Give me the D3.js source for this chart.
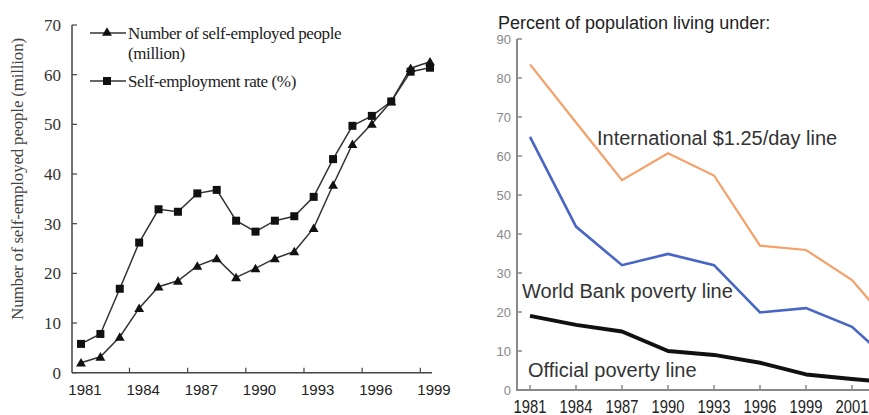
<!DOCTYPE html>
<html><head><meta charset="utf-8">
<script src="https://cdn.jsdelivr.net/npm/d3@7"></script>
<style>body{margin:0;background:#fff}svg{display:block}</style>
</head><body>
<svg id="c" width="869" height="415"></svg>
<script>
// ---- Left chart data ----
const leftYears = [1981,1982,1983,1984,1985,1986,1987,1988,1989,1990,1991,1992,1993,1994,1995,1996,1997,1998,1999];
const selfEmployedPeople = [2.0,3.2,7.2,13.0,17.3,18.5,21.5,23.0,19.2,21.0,23.0,24.4,29.1,37.8,46.0,50.1,54.6,61.3,62.6];
const selfEmploymentRate = [5.8,7.8,16.9,26.2,32.9,32.4,36.1,36.8,30.6,28.4,30.6,31.5,35.4,43.0,49.7,51.7,54.6,60.6,61.4];
const leftXTickLabels = [1981,1984,1987,1990,1993,1996,1999];
const leftYTicks = [0,10,20,30,40,50,60,70];
const leftLegend = ["Number of self-employed people", "(million)", "Self-employment rate (%)"];
const leftYTitle = "Number of self-employed people (million)";

// ---- Right chart data ----
const rightCats = ["1981","1984","1987","1990","1993","1996","1999","2001","2004"];
const rightXTickLabels = ["1981","1984","1987","1990","1993","1996","1999","2001"];
const intlLine = [83.5,68.6,53.8,60.7,55.0,37.0,35.9,28.2,14.5];
const worldBankLine = [64.9,41.9,32.0,34.9,32.0,19.9,21.0,16.2,5.5];
const officialLine = [19.0,16.7,15.0,10.0,9.0,7.0,4.0,2.8,1.8];
const rightYTicks = [0,10,20,30,40,50,60,70,80,90];
const rightTitle = "Percent of population living under:";
const seriesLabels = ["International $1.25/day line","World Bank poverty line","Official poverty line"];

const svg = d3.select("#c");

// ================= LEFT =================
const L = svg.append("g");
const lx = d3.scalePoint().domain(leftYears).range([81, 430]);
const ly = d3.scaleLinear().domain([0,70]).range([372.7, 25]);
const lstep = lx.step();
const axisCol = "#444", serif = "'Liberation Serif','Times New Roman',serif";

// axes lines
L.append("line").attr("x1",72).attr("x2",72).attr("y1",ly(70)).attr("y2",ly(0)).attr("stroke",axisCol).attr("stroke-width",1.5);
L.append("line").attr("x1",72).attr("x2",432).attr("y1",ly(0)).attr("y2",ly(0)).attr("stroke",axisCol).attr("stroke-width",1.5);
// y ticks
L.selectAll(".lyt").data(leftYTicks).join("line")
  .attr("x1",72).attr("x2",77).attr("y1",d=>ly(d)).attr("y2",d=>ly(d)).attr("stroke",axisCol).attr("stroke-width",1.2);
L.selectAll(".lyl").data(leftYTicks).join("text")
  .attr("x",61).attr("y",d=>ly(d)).attr("dy","0.35em").attr("text-anchor","end")
  .attr("font-family",serif).attr("font-size",17).attr("fill","#333").text(d=>d);
// x ticks (between categories)
const tickYears = leftYears.filter((d,i)=> i%3===2 && i<leftYears.length-1);
L.selectAll(".lxt").data(tickYears).join("line")
  .attr("x1",d=>lx(d)+lstep/2).attr("x2",d=>lx(d)+lstep/2).attr("y1",ly(0)).attr("y2",ly(0)-5)
  .attr("stroke",axisCol).attr("stroke-width",1.2);
L.selectAll(".lxl").data(leftXTickLabels).join("text")
  .attr("x",d=>lx(d)+4).attr("y",395).attr("text-anchor","middle")
  .attr("font-family","'Liberation Sans',Arial,sans-serif").attr("font-size",15).attr("fill","#222").text(d=>d);
// y title
L.append("text").attr("transform","translate(23,179) rotate(-90)").attr("text-anchor","middle")
  .attr("font-family",serif).attr("font-size",17).attr("fill","#444").attr("letter-spacing",-0.2).text(leftYTitle);

const lineCol = "#333";
const lline = arr => d3.line().x((d,i)=>lx(leftYears[i])).y(d=>ly(d))(arr);
L.append("path").attr("d",lline(selfEmploymentRate)).attr("fill","none").attr("stroke",lineCol).attr("stroke-width",1.5);
L.append("path").attr("d",lline(selfEmployedPeople)).attr("fill","none").attr("stroke",lineCol).attr("stroke-width",1.5);
const sq = d3.symbol().type(d3.symbolSquare).size(64);
const tri = d3.symbol().type(d3.symbolTriangle).size(42);
L.selectAll(".sq").data(selfEmploymentRate).join("path")
  .attr("d",sq).attr("transform",(d,i)=>`translate(${lx(leftYears[i])},${ly(d)})`).attr("fill","#111");
L.selectAll(".tr").data(selfEmployedPeople).join("path")
  .attr("d",tri).attr("transform",(d,i)=>`translate(${lx(leftYears[i])},${ly(d)+1})`).attr("fill","#111");

// legend
const lg = [{y:33, sym:tri, t:leftLegend[0]},{y:81, sym:sq, t:leftLegend[2]}];
lg.forEach(o=>{
  L.append("line").attr("x1",90).attr("x2",126).attr("y1",o.y).attr("y2",o.y).attr("stroke",lineCol).attr("stroke-width",1.5);
  L.append("path").attr("d",o.sym).attr("transform",`translate(107,${o.y})`).attr("fill","#111");
  L.append("text").attr("x",128).attr("y",o.y+6).attr("font-family",serif).attr("font-size",17)
    .attr("letter-spacing",-0.4).attr("fill","#222").text(o.t);
});
L.append("text").attr("x",128).attr("y",59).attr("font-family",serif).attr("font-size",17)
  .attr("letter-spacing",-0.4).attr("fill","#222").text(leftLegend[1]);

// ================= RIGHT =================
const R = svg.append("g");
const sans = "'Liberation Sans',Arial,Helvetica,sans-serif";
const rx = d3.scalePoint().domain(rightCats).range([530, 898]);
const ry = d3.scaleLinear().domain([0,90]).range([390, 39]);
const rAxis = "#8a8a8a";
svg.append("defs").append("clipPath").attr("id","rclip").append("rect").attr("x",517).attr("y",0).attr("width",352).attr("height",415);

R.append("line").attr("x1",517).attr("x2",517).attr("y1",ry(90)).attr("y2",ry(0)+1).attr("stroke",rAxis).attr("stroke-width",2);
R.append("line").attr("x1",516).attr("x2",869).attr("y1",ry(0)).attr("y2",ry(0)).attr("stroke",rAxis).attr("stroke-width",2);
R.selectAll(".ryt").data(rightYTicks).join("line")
  .attr("x1",517).attr("x2",522).attr("y1",d=>ry(d)).attr("y2",d=>ry(d)).attr("stroke",rAxis).attr("stroke-width",1.5);
R.selectAll(".ryl").data(rightYTicks).join("text")
  .attr("x",511).attr("y",d=>ry(d)).attr("dy","0.35em").attr("text-anchor","end")
  .attr("font-family",sans).attr("font-size",13).attr("fill","#888").text(d=>d);
R.selectAll(".rxt").data(rightXTickLabels).join("line")
  .attr("x1",d=>rx(d)).attr("x2",d=>rx(d)).attr("y1",ry(0)).attr("y2",ry(0)-5).attr("stroke",rAxis).attr("stroke-width",1.5);
R.selectAll(".rxl").data(rightXTickLabels).join("text")
  .attr("transform",d=>`translate(${rx(d)},413) scale(0.82,1)`).attr("text-anchor","middle")
  .attr("font-family",sans).attr("font-size",18).attr("fill","#222").text(d=>d);

R.append("text").attr("x",498).attr("y",29).attr("font-family",sans).attr("font-size",18).attr("fill","#222").text(rightTitle);

const rline = arr => d3.line().x((d,i)=>rx(rightCats[i])).y(d=>ry(d))(arr);
const plot = R.append("g").attr("clip-path","url(#rclip)");
plot.append("path").attr("d",rline(intlLine)).attr("fill","none").attr("stroke","#f5a068").attr("stroke-width",2.2);
plot.append("path").attr("d",rline(worldBankLine)).attr("fill","none").attr("stroke","#4866c4").attr("stroke-width",2.6);
plot.append("path").attr("d",rline(officialLine)).attr("fill","none").attr("stroke","#111").attr("stroke-width",4).attr("stroke-linejoin","round");

R.append("text").attr("x",597).attr("y",145).attr("font-family",sans).attr("font-size",20).attr("fill","#333").text(seriesLabels[0]);
R.append("text").attr("x",522).attr("y",298).attr("font-family",sans).attr("font-size",20).attr("fill","#333").text(seriesLabels[1]);
R.append("text").attr("x",528).attr("y",377).attr("font-family",sans).attr("font-size",20).attr("fill","#333").text(seriesLabels[2]);
</script>
</body></html>
